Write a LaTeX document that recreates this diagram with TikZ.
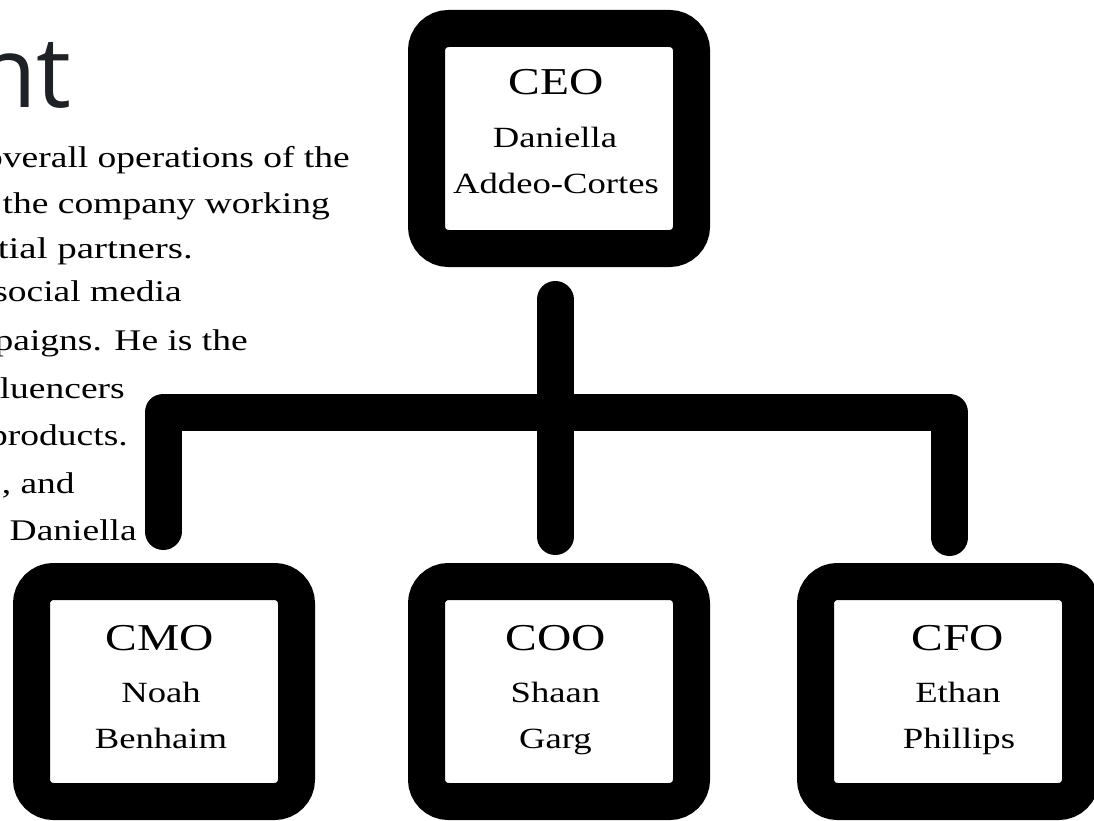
\documentclass[tikz,border=0pt]{standalone}
\usepackage{fontspec}
\setmainfont{Liberation Serif}[FakeStretch=1.25]
\newfontfamily\titlefont{Open Sans}
\definecolor{titlegray}{RGB}{30,33,37}
\begin{document}
\begin{tikzpicture}[x=0.75pt,y=-0.75pt,
  orgbox/.style={draw=black, fill=white, line width=27.75pt, rounded corners=16.5pt,
    minimum width=198.75pt, minimum height=165pt, inner sep=0pt},
  role/.style={anchor=base, inner sep=0pt, font=\fontsize{28.5pt}{31pt}\selectfont},
  person/.style={anchor=base, inner sep=0pt, font=\fontsize{22pt}{26pt}\selectfont},
  body/.style={anchor=base east, inner sep=0pt, font=\fontsize{22.5pt}{27pt}\selectfont},
  link/.style={draw=black, line width=27.75pt, line cap=round, line join=round}]
\useasboundingbox (0,0) rectangle (1094,820);
\clip (0,0) rectangle (1094,820);

% title fragment
\node[anchor=base east, inner sep=0pt, text=titlegray,
  font=\titlefont\fontsize{74pt}{84pt}\selectfont] (title) at (72,108) {nt};

% body text fragments
\node[body] (l1) at (350,167) {overall operations of the};
\node[body] (l2) at (330,213) {the company working};
\node[body] (l3) at (193,258) {\scalebox{1.04}[1]{tial partners.}};
\node[body] (l4) at (182,301) {social media};
\node[body] (l5) at (248,350) {paigns. He is the};
\node[body] (l6) at (125,398) {luencers};
\node[body] (l7) at (128,445) {products.};
\node[body] (l8) at (75,493) {, and};
\node[body] (l9) at (137,540) {Daniella};

% connectors
\coordinate (ceoStem) at (555,299.5);
\coordinate (cooStem) at (555,536.5);
\coordinate (barL) at (163,412);
\coordinate (barR) at (949.5,412);
\coordinate (cmoStem) at (163,531.5);
\coordinate (cfoStem) at (949.5,537.5);
\draw[link] (cmoStem) -- (barL) -- (barR) -- (cfoStem);
\draw[link] (ceoStem) -- (cooStem);

% boxes
\node[orgbox] (ceo) at (559,138.5) {};
\node[orgbox] (cmo) at (164,691.5) {};
\node[orgbox] (coo) at (559,691.5) {};
\node[orgbox] (cfo) at (948,691.5) {};

% box texts
\node[role] (ceoR) at (556,95) {CEO};
\node[person] (ceoN1) at (555,147) {Daniella};
\node[person] (ceoN2) at (556,193) {Addeo-Cortes};

\node[role] (cmoR) at (160,650) {CMO};
\node[person] (cmoN1) at (161,702) {Noah};
\node[person] (cmoN2) at (161,748) {Benhaim};

\node[role] (cooR) at (555.5,650) {COO};
\node[person] (cooN1) at (555.5,702) {Shaan};
\node[person] (cooN2) at (555.5,748) {Garg};

\node[role] (cfoR) at (958,650) {CFO};
\node[person] (cfoN1) at (958,702) {Ethan};
\node[person] (cfoN2) at (959,748) {Phillips};
\end{tikzpicture}
\end{document}
